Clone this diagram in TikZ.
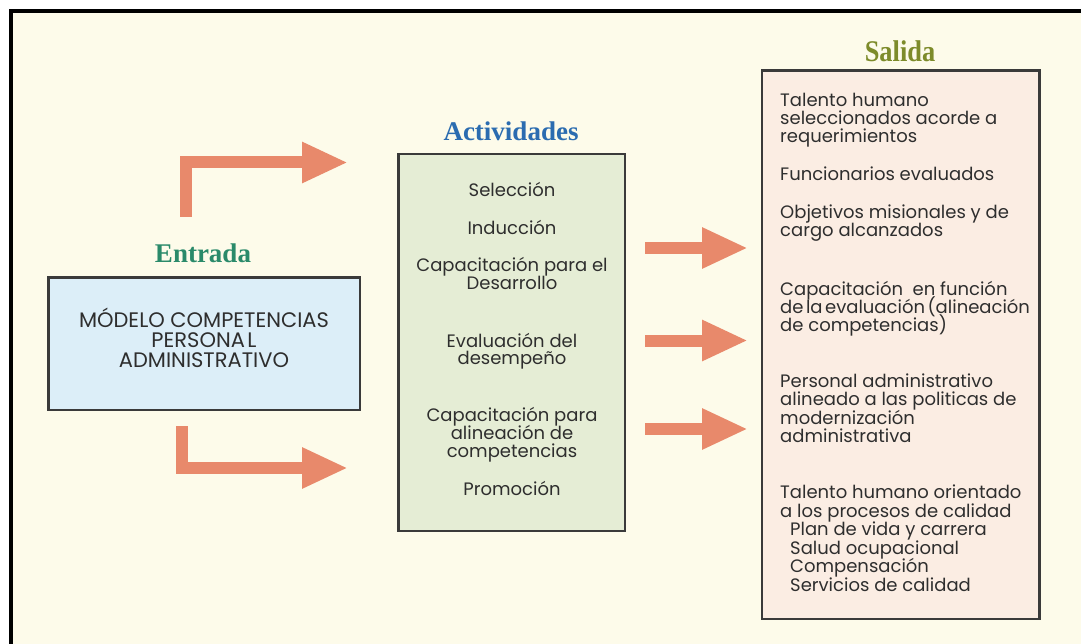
\documentclass[tikz,border=0pt]{standalone}
\usepackage{fontspec}
\setmainfont{Poppins}
\newfontfamily\titlefont{Liberation Serif}
\usetikzlibrary{arrows.meta}
\definecolor{cream}{HTML}{FDFBEA}
\definecolor{arr}{HTML}{E8896B}
\definecolor{bluefill}{HTML}{DCEEF8}
\definecolor{greenfill}{HTML}{E5EDD5}
\definecolor{pinkfill}{HTML}{FBEDE3}
\definecolor{boxline}{HTML}{3A3A3A}
\definecolor{txt}{HTML}{2E2E2E}
\definecolor{tEntrada}{HTML}{2A8A6A}
\definecolor{tAct}{HTML}{2B6CB0}
\definecolor{tSal}{HTML}{7D8B2A}
\tikzset{
  boxstyle/.style={draw=boxline, line width=2.5pt},
  bigarrow/.style={draw=arr, line width=12pt, line join=miter, -{Triangle[length=46pt,width=38pt]}},
  rt/.style={anchor=base west, inner sep=0pt, text=txt, font=\fontsize{18pt}{18pt}\selectfont},
  mt/.style={anchor=base, inner sep=0pt, text=txt, font=\fontsize{18pt}{18pt}\selectfont},
  lt/.style={anchor=base, inner sep=0pt, text=txt, font=\fontsize{21pt}{21pt}\selectfont},
  ttl/.style={anchor=base, inner sep=0pt, font=\titlefont\bfseries\fontsize{27pt}{28pt}\selectfont},
}
\begin{document}
\begin{tikzpicture}[x=1pt, y=-1pt]
\useasboundingbox (0,0) rectangle (1081,644);
\fill[white] (0,0) rectangle (1081,644);
\fill[cream] (11,11) rectangle (1081,644);
\draw[black, line width=4pt] (11,644) -- (11,11) -- (1081,11);

% boxes
\filldraw[boxstyle, fill=bluefill] (48.5,277.5) rectangle (360,410);
\filldraw[boxstyle, fill=greenfill] (398.5,154) rectangle (625,531);
\filldraw[boxstyle, fill=pinkfill] (762,70.5) rectangle (1039.5,619);

% titles
\node[ttl, text=tEntrada] (tent) at (203,262) {Entrada};
\node[ttl, text=tAct] (tact) at (511,141) {Actividades};
\node[ttl, text=tSal, xscale=0.88, font=\titlefont\bfseries\fontsize{30pt}{30pt}\selectfont] (tsal) at (900,62) {Salida};

% left text
\node[lt] (l1) at (204,327) {MÓDELO COMPETENCIAS};
\node[lt] (l2) at (204,347) {PERSONA\hspace{0.12em}L};
\node[lt] (l3) at (204,367) {ADMINISTRATIVO};

% middle text
\node[mt] (m1) at (512,197) {Selección};
\node[mt] (m2) at (512,235) {Inducción};
\node[mt] (m3) at (512,272) {Capacitación para el};
\node[mt] (m4) at (512,290) {Desarrollo};
\node[mt] (m5) at (512,347) {Evaluación del};
\node[mt] (m6) at (512,364) {desempeño};
\node[mt] (m7) at (512,421) {Capacitación para};
\node[mt] (m8) at (512,439) {alineación de};
\node[mt] (m9) at (512,457) {competencias};
\node[mt] (m10) at (512,495) {Promoción};

% right text
\node[rt] (r1) at (780,107) {Talento humano};
\node[rt] (r2) at (780,125) {seleccionados acorde a};
\node[rt] (r3) at (780,143) {requerimientos};
\node[rt] (r4) at (780,181) {Funcionarios evaluados};
\node[rt] (r5) at (780,219) {Objetivos misionales y de};
\node[rt] (r6) at (780,237) {cargo alcanzados};
\node[rt] (r7) at (780,295) {Capacitación\ \ en función};
\node[rt] (r8) at (780,313) {\spaceskip=2.5pt de la evaluación (alineación};
\node[rt] (r9) at (780,331) {de competencias)};
\node[rt] (r10) at (780,387) {Personal administrativo};
\node[rt] (r11) at (780,405) {alineado a las politicas de};
\node[rt] (r12) at (780,424) {modernización};
\node[rt] (r13) at (780,442) {administrativa};
\node[rt] (r14) at (780,498) {Talento humano orientado};
\node[rt] (r15) at (780,517) {a los procesos de calidad};
\node[rt] (r16) at (790,535) {Plan de vida y carrera};
\node[rt] (r17) at (790,554) {Salud ocupacional};
\node[rt] (r18) at (790,572) {Compensación};
\node[rt] (r19) at (790,591) {Servicios de calidad};

% arrows
\coordinate (ta0) at (185.5,217);
\coordinate (ta1) at (348,162.5);
\coordinate (ba0) at (181.5,426);
\coordinate (ba1) at (348,468);
\coordinate (ra0) at (645,248);
\coordinate (ra1) at (748,248);
\coordinate (rb0) at (645,340.5);
\coordinate (rb1) at (748,340.5);
\coordinate (rc0) at (645,429);
\coordinate (rc1) at (748,429);
\draw[bigarrow] (ta0) |- (ta1);
\draw[bigarrow] (ba0) |- (ba1);
\draw[bigarrow] (ra0) -- (ra1);
\draw[bigarrow] (rb0) -- (rb1);
\draw[bigarrow] (rc0) -- (rc1);
\end{tikzpicture}
\end{document}
